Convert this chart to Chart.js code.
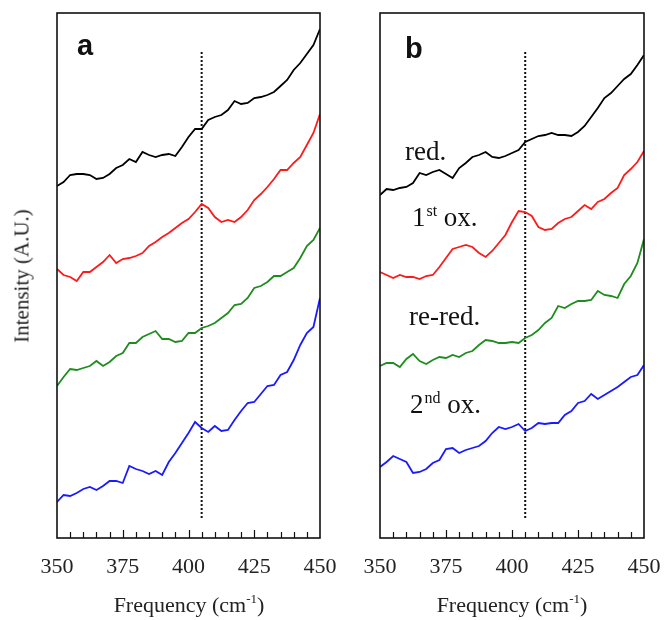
<!DOCTYPE html>
<html>
<head>
<meta charset="utf-8">
<script src="https://cdn.jsdelivr.net/npm/chart.js@4.4.0/dist/chart.umd.min.js"></script>
<style>
  body { margin: 0; background: #fff; }
  #wrap { position: relative; width: 665px; height: 620px; overflow: hidden; font-family: "Liberation Serif", "Times New Roman", serif; }
  canvas { position: absolute; left: 0; top: 0; }
  .xt { position: absolute; top: 594px; width: 240px; text-align: center; font-size: 22px; line-height: 22px; color: #222; }
  .xt sup { font-size: 13px; vertical-align: 0; position: relative; top: -9px; }
  #yt { position: absolute; left: 22px; top: 276px; transform: translate(-50%, -50%) rotate(-90deg); font-size: 21px; line-height: 21px; color: #222; white-space: nowrap; }
</style>
</head>
<body>
<div id="wrap">
  <canvas id="grafikA" width="665" height="620"></canvas>
  <canvas id="grafikB" width="665" height="620"></canvas>
  <div id="yt">Intensity (A.U.)</div>
  <div class="xt" style="left:69px">Frequency (cm<sup>-1</sup>)</div>
  <div class="xt" style="left:392px">Frequency (cm<sup>-1</sup>)</div>
</div>
<script>
// ===== data =====
const freq = [350, 352.5, 355, 357.5, 360, 362.5, 365, 367.5, 370, 372.5, 375, 377.5, 380, 382.5, 385, 387.5, 390, 392.5, 395, 397.5,
  400, 402.5, 405, 407.5, 410, 412.5, 415, 417.5, 420, 422.5, 425, 427.5, 430, 432.5, 435, 437.5, 440, 442.5, 445, 447.5, 450];

// panel a
const aBlack = [352, 356, 363, 364, 364, 363, 359, 360, 364, 370, 373, 379, 376, 386, 383, 381, 383, 384, 382, 391,
  401, 409, 409, 418, 421, 423, 428, 437, 434, 435, 440, 441, 443, 446, 452, 458, 468, 475, 484, 493, 509];
const aRed = [269, 263, 261, 257, 266, 266, 271, 276, 283, 275, 279, 280, 282, 285, 292, 296, 301, 305, 310, 315,
  319, 326, 334, 330, 321, 316, 318, 316, 321, 328, 338, 344, 351, 359, 368, 368, 375, 381, 393, 405, 424];
const aGreen = [152, 161, 169, 168, 170, 172, 177, 172, 176, 182, 185, 195, 195, 201, 204, 207, 199, 199, 196, 197,
  205, 205, 210, 212, 215, 220, 225, 233, 234, 240, 250, 252, 256, 262, 262, 266, 270, 280, 292, 298, 310];
const aBlue = [36, 43, 42, 45, 49, 51, 48, 52, 57, 57, 55, 72, 69, 67, 64, 67, 63, 76, 85, 95,
  105, 116, 110, 106, 112, 107, 108, 118, 127, 135, 136, 144, 152, 153, 163, 166, 178, 193, 205, 211, 240];

// panel b
const bBlack = [343, 349, 348, 350, 351, 355, 365, 363, 366, 368, 364, 360, 370, 375, 381, 383, 386, 381, 380, 382,
  385, 388, 396, 399, 402, 403, 405, 403, 403, 402, 406, 412, 421, 430, 440, 445, 452, 459, 464, 473, 483];
const bRed = [266, 263, 260, 263, 261, 261, 259, 262, 263, 271, 280, 289, 291, 293, 291, 285, 281, 287, 295, 303,
  316, 327, 326, 322, 311, 308, 309, 315, 319, 321, 327, 333, 329, 336, 339, 345, 350, 363, 369, 376, 387];
const bGreen = [172, 175, 175, 171, 179, 184, 177, 174, 178, 181, 180, 183, 181, 185, 187, 193, 198, 197, 195, 195,
  196, 195, 200, 203, 208, 215, 220, 232, 230, 234, 237, 237, 238, 247, 243, 242, 240, 254, 262, 275, 299];
const bBlue = [71, 76, 82, 79, 76, 65, 66, 69, 75, 78, 89, 90, 85, 88, 90, 92, 97, 105, 111, 109,
  111, 114, 107, 110, 115, 114, 115, 115, 123, 127, 135, 137, 144, 139, 143, 147, 151, 156, 161, 163, 173];

const colors = ["#000000", "#ff1a1a", "#1e8c1e", "#1a1aff"];
const xTicks = [350, 375, 400, 425, 450];
const markerX = 405;
const markerY = [20, 488];

// label texts: [text, superscript]
const notesA = [{ x: 357.6, y: 483, parts: [["a", ""]], bold: true }];
const notesB = [
  { x: 359.5, y: 480, parts: [["b", ""]], bold: true },
  { x: 359.5, y: 378, parts: [["red.", ""]] },
  { x: 362.1, y: 312, parts: [["1", "st"], [" ox.", ""]] },
  { x: 361.0, y: 213, parts: [["re-red.", ""]] },
  { x: 361.4, y: 125, parts: [["2", "nd"], [" ox.", ""]] }
];

// ===== helper =====
function makeDatasets(series) {
  const ds = series.map((s, i) => ({
    data: freq.map((f, j) => ({ x: f, y: s[j] })),
    borderColor: colors[i],
    borderWidth: 1.8,
    pointRadius: 0,
    tension: 0,
    fill: false
  }));
  ds.push({
    data: [{ x: markerX, y: markerY[0] }, { x: markerX, y: markerY[1] }],
    borderColor: "#111",
    borderWidth: 2,
    borderDash: [2, 2],
    pointRadius: 0
  });
  return ds;
}

// frame, inward ticks and text labels
const framePlugin = {
  id: "frame",
  afterDatasetsDraw(chart, args, opts) {
    const { ctx, chartArea: a, scales: { x, y } } = chart;
    ctx.save();
    ctx.strokeStyle = "#111";
    ctx.lineWidth = 1.2;
    for (let v = 355; v < 450; v += 5) {
      const px = Math.round(x.getPixelForValue(v)) + 0.5;
      const len = v % 25 === 0 ? 8 : 6;
      ctx.beginPath();
      ctx.moveTo(px, a.bottom);
      ctx.lineTo(px, a.bottom - len);
      ctx.stroke();
    }
    ctx.lineWidth = 1.6;
    ctx.strokeRect(a.left, a.top, a.right - a.left, a.bottom - a.top);

    ctx.fillStyle = "#111";
    ctx.textBaseline = "alphabetic";
    (opts.notes || []).forEach(n => {
      let px = x.getPixelForValue(n.x);
      const py = y.getPixelForValue(n.y);
      n.parts.forEach(([txt, sup]) => {
        ctx.font = n.bold ? "bold 29px 'Liberation Sans', Arial, sans-serif" : "27px 'Liberation Serif', serif";
        ctx.fillText(txt, px, py);
        px += ctx.measureText(txt).width;
        if (sup) {
          ctx.font = "16px 'Liberation Serif', serif";
          ctx.fillText(sup, px + 1, py - 10);
          px += ctx.measureText(sup).width + 1;
        }
      });
    });
    ctx.restore();
  }
};

function makeChart(el, series, padL, padR, notes) {
  return new Chart(el, {
    type: "line",
    data: { datasets: makeDatasets(series) },
    options: {
      responsive: false,
      animation: false,
      devicePixelRatio: 1,
      layout: { padding: { left: padL, right: padR, top: 13, bottom: 0 }, autoPadding: false },
      plugins: { legend: { display: false }, tooltip: { enabled: false }, frame: { notes } },
      scales: {
        x: {
          type: "linear",
          min: 350, max: 450,
          afterFit(s) { s.height = 82; s.paddingLeft = 0; s.paddingRight = 0; },
          afterBuildTicks(s) { s.ticks = xTicks.map(v => ({ value: v })); },
          grid: { display: false },
          border: { display: false },
          ticks: {
            color: "#222",
            padding: 8,
            maxRotation: 0,
            autoSkip: false,
            font: { family: "'Liberation Serif', serif", size: 22 }
          }
        },
        y: { display: false, min: 0, max: 525 }
      }
    },
    plugins: [framePlugin]
  });
}

// ===== main =====
const chartA = makeChart(document.getElementById("grafikA"), [aBlack, aRed, aGreen, aBlue], 57, 345, notesA);
const chartB = makeChart(document.getElementById("grafikB"), [bBlack, bRed, bGreen, bBlue], 380, 21, notesB);
</script>
</body>
</html>
